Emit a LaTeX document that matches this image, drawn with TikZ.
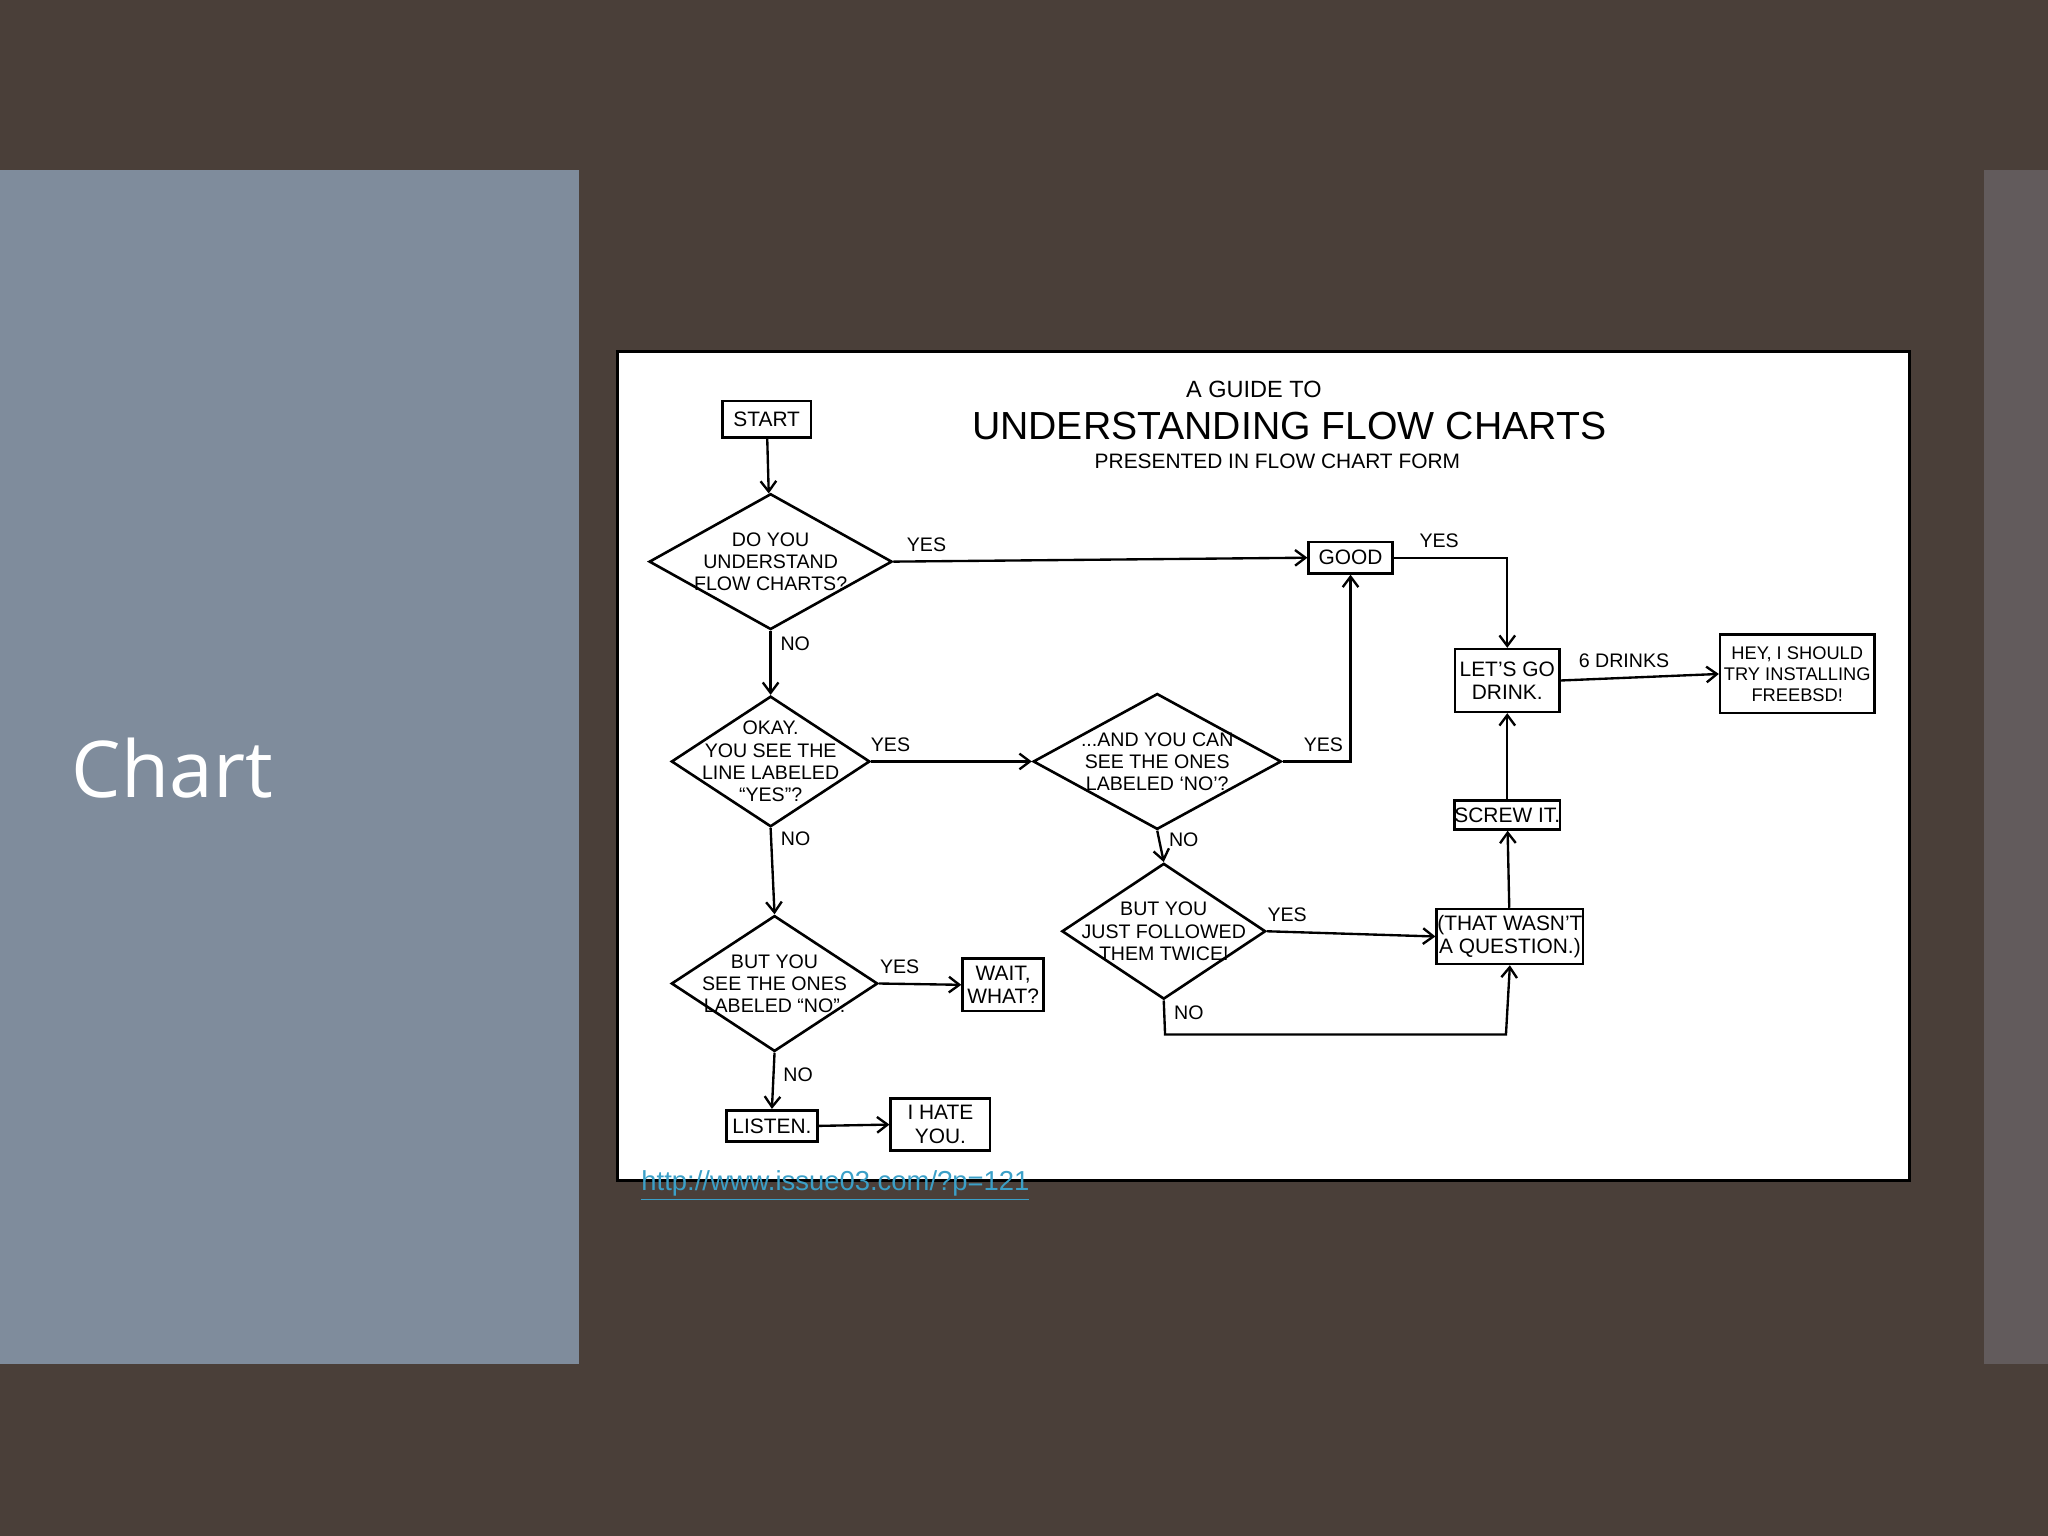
\documentclass[tikz,border=0pt]{standalone}
\usepackage{fontspec}
\setmainfont{Liberation Sans}
\newfontfamily\slidefont{Open Sans}
\usetikzlibrary{shapes.geometric,arrows.meta}
\definecolor{bgdark}{HTML}{4A3F39}
\definecolor{panel}{HTML}{7F8C9C}
\definecolor{strip}{HTML}{625B5C}
\definecolor{linkc}{HTML}{3BA0C8}
\tikzset{
  box/.style={draw, line width=1pt, font=\fontsize{8}{9}\selectfont, align=center, inner sep=0pt},
  dia/.style={draw, diamond, line width=1pt, inner sep=0pt, aspect=1.8},
  dtext/.style={font=\fontsize{7.5}{8.5}\selectfont, align=center},
  lbl/.style={font=\fontsize{7.5}{8}\selectfont},
  arr/.style={line width=0.9pt, -{Straight Barb[length=4pt,width=6pt]}},
}
\begin{document}
\begin{tikzpicture}[x=0.5pt,y=-0.5pt]
\fill[bgdark] (0,0) rectangle (1568,1176);
\useasboundingbox (0,0) rectangle (1568,1176);
\fill[panel] (0,130) rectangle (443,1044);
\fill[strip] (1519,130) rectangle (1568,1044);
\node[anchor=west, text=white, font=\slidefont\fontsize{30}{34}\selectfont] (ttl) at (48,588) {Chart};
\draw[fill=white, line width=1pt] (473,269) rectangle (1462,904);
\node[anchor=west, text=linkc, font=\fontsize{10.5}{12}\selectfont] (lnk) at (484,908) {\underline{http://www.issue03.com/?p=121}};

% title
\node[font=\fontsize{9}{10}\selectfont] (t1) at (960,298) {A GUIDE TO};
\node[font=\fontsize{15}{16}\selectfont] (t2) at (987,326) {UNDERSTANDING FLOW CHARTS};
\node[font=\fontsize{8}{9}\selectfont] (t3) at (978,353) {PRESENTED IN FLOW CHART FORM};

% boxes
\node[box, minimum width=34pt, minimum height=14pt] (start) at (587,321) {START};
\node[box, minimum width=32pt, minimum height=12pt] (good) at (1034,427) {GOOD};
\node[box, minimum width=40pt, minimum height=24pt] (drink) at (1154,521) {LET'S GO\\DRINK.};
\node[box, minimum width=59pt, minimum height=30pt, font=\fontsize{7}{8}\selectfont] (hey) at (1376,516) {HEY, I SHOULD\\TRY INSTALLING\\FREEBSD!};
\node[box, minimum width=40pt, minimum height=11pt] (screw) at (1154,624) {SCREW IT.};
\node[box, minimum width=56pt, minimum height=21pt] (that) at (1156,717) {(THAT WASN'T\\A QUESTION.)};
\node[box, minimum width=31pt, minimum height=20pt] (wait) at (768,754) {WAIT,\\WHAT?};
\node[box, minimum width=35pt, minimum height=12pt] (listen) at (591,862) {LISTEN.};
\node[box, minimum width=38pt, minimum height=20pt] (hate) at (720,861) {I HATE\\YOU.};

% diamonds
\node[dia, minimum width=93pt, minimum height=52pt] (d1) at (590,430) {};
\node[dtext] at (d1) {DO YOU\\UNDERSTAND\\FLOW CHARTS?};
\node[dia, minimum width=76pt, minimum height=50pt] (d2) at (590,583) {};
\node[dtext] at (d2) {OKAY.\\YOU SEE THE\\LINE LABELED\\``YES''?};
\node[dia, minimum width=95pt, minimum height=52pt] (d3) at (886,583) {};
\node[dtext] at (d3) {...AND YOU CAN\\SEE THE ONES\\LABELED `NO'?};
\node[dia, minimum width=78pt, minimum height=52pt] (d4) at (891,713) {};
\node[dtext] at (d4) {BUT YOU\\JUST FOLLOWED\\THEM TWICE!};
\node[dia, minimum width=79pt, minimum height=52pt] (d5) at (593,753) {};
\node[dtext] at (d5) {BUT YOU\\SEE THE ONES\\LABELED ``NO''.};

% connectors
\draw[arr] (start) -- (d1);
\draw[arr] (d1.east) -- node[lbl, above, pos=0.08] {YES} (good.west);
\draw[arr] (d1.south) -- node[lbl, right, pos=0.2] {NO} (d2.north);
\draw[arr] (good.east) -| node[lbl, above, pos=0.2] {YES} (drink.north);
\draw[arr] (d2.east) -- node[lbl, above, pos=0.12] {YES} (d3.west);
\draw[arr] (d2.south) -- node[lbl, right, pos=0.12] {NO} (d5.north);
\draw[arr] (d3.east) -| node[lbl, above, pos=0.3] {YES} (good.south);
\draw[arr] (d3.south) -- node[lbl, right, pos=0.3] {NO} (d4.north);
\draw[arr] (d4.east) -- node[lbl, above, pos=0.12] {YES} (that.west);
\coordinate (c1) at (892,792);
\coordinate (c2) at (1153,792);
\draw[arr] (d4.south) -- node[lbl, right, pos=0.35] {NO} (c1) -- (c2) -- (that.south);
\draw[arr] (that) -- (screw);
\draw[arr] (screw) -- (drink);
\draw[arr] (drink.east) -- node[lbl, above, pos=0.4] {6 DRINKS} (hey.west);
\draw[arr] (d5.east) -- node[lbl, above, pos=0.25] {YES} (wait.west);
\draw[arr] (d5.south) -- node[lbl, right, pos=0.4] {NO} (listen.north);
\draw[arr] (listen.east) -- (hate.west);
\end{tikzpicture}
\end{document}
